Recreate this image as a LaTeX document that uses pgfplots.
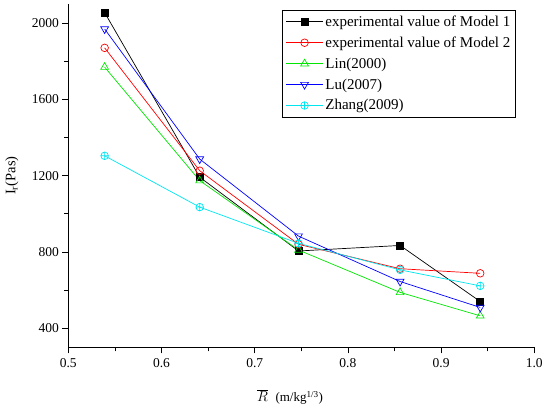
\documentclass[border=0pt]{standalone}
\usepackage{pgfplots}
\pgfplotsset{compat=1.18}
\usepackage{fontspec}
\setmainfont{Liberation Serif}
\definecolor{mygreen}{RGB}{0,230,0}
\definecolor{mycyan}{RGB}{0,230,240}
\begin{document}
\begin{tikzpicture}
\begin{axis}[
  scale only axis,
  width=466pt, height=343.3pt,
  xmin=0.5, xmax=1.0, ymin=300, ymax=2100,
  axis lines=left,
  axis line style={-, line width=0.6pt},
  xtick={0.5,0.6,0.7,0.8,0.9,1.0},
  ytick={400,800,1200,1600,2000},
  minor x tick num=1, minor y tick num=1,
  tick align=outside,
  major tick length=6pt, minor tick length=4pt,
  tick style={black, line width=0.6pt},
  /pgf/number format/assume math mode=true,
  x tick label style={/pgf/number format/fixed, /pgf/number format/fixed zerofill, /pgf/number format/precision=1, yshift=-2pt},
  y tick label style={/pgf/number format/1000 sep={}},
  tick label style={font=\fontsize{13.5}{16}\selectfont},
  xlabel={$\overline{R}$\ \ {\fontsize{13}{15}\selectfont(m/kg\textsuperscript{1/3})}},
  xlabel style={at={(axis description cs:0.476,-0.145)}, anchor=center, font=\fontsize{15}{17}\selectfont},
  ylabel={I\textsubscript{r}(Pas)},
  ylabel style={at={(axis description cs:-0.121,0.5)}, anchor=center, font=\fontsize{14.5}{16}\selectfont},
  legend cell align=left,
  legend style={at={(rel axis cs:0.96,0.983)}, anchor=north east, draw=black, line width=0.6pt,
    font=\fontsize{15}{17}\selectfont, row sep=5pt, inner xsep=3pt, inner ysep=3.5pt},
  legend image code/.code={\draw[mark repeat=2,mark phase=2] plot coordinates {(0cm,0cm)(0.65cm,0cm)(1.3cm,0cm)};},
  every axis plot/.append style={line width=0.7pt},
]
\coordinate (ll) at (rel axis cs:0,0);
\addplot[black, mark=square*, mark size=3.5pt, mark options={solid}] coordinates {
 (0.539,2055) (0.641,1192) (0.747,805) (0.856,834) (0.942,540)};
\addlegendentry{experimental value of Model 1}
\addplot[red, mark=o, mark size=3.8pt] coordinates {
 (0.539,1870) (0.641,1226) (0.747,840) (0.856,712) (0.942,688)};
\addlegendentry{experimental value of Model 2}
\addplot[mygreen, mark=triangle, mark size=4.5pt] coordinates {
 (0.539,1769) (0.641,1174) (0.747,810) (0.856,588) (0.942,465)};
\addlegendentry{Lin(2000)}
\addplot[blue, mark=triangle, mark size=4.5pt, mark options={rotate=180}] coordinates {
 (0.539,1969) (0.641,1287) (0.747,883) (0.856,645) (0.942,509)};
\addlegendentry{Lu(2007)}
\addplot[mycyan, mark=oplus, mark size=3.8pt] coordinates {
 (0.539,1304) (0.641,1035) (0.747,845) (0.856,706) (0.942,622)};
\addlegendentry{Zhang(2009)}
\end{axis}
\pgfresetboundingbox
\path (ll) ++(-68.3pt,-60.7pt) rectangle ++(550pt,408pt);
\end{tikzpicture}
\end{document}
